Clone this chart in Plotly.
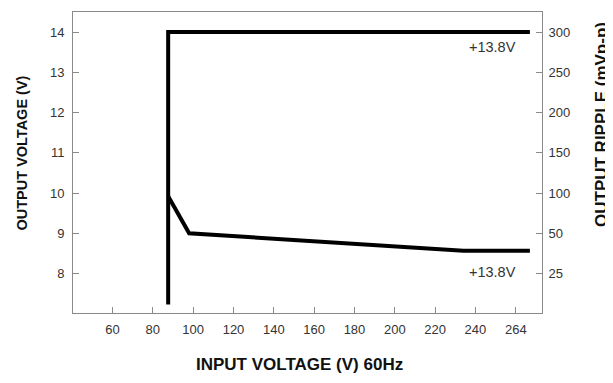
import plotly.graph_objects as go

# Data (x in axis position units; the last tick "264" sits at position 260)
vout_x = [87.6, 87.6, 267]
vout_y = [7.23, 14.0, 14.0]
ripple_x = [87.6, 98, 234, 267]
ripple_y = [9.92, 9.0, 8.57, 8.57]

x_tickvals = [60, 80, 100, 120, 140, 160, 180, 200, 220, 240, 260]
x_ticktext = ["60", "80", "100", "120", "140", "160", "180", "200", "220", "240", "264"]
y_tickvals = [8, 9, 10, 11, 12, 13, 14]
y_ticktext = ["8", "9", "10", "11", "12", "13", "14"]
y2_ticktext = ["25", "50", "100", "150", "200", "250", "300"]

FONT = "Liberation Sans, Arial, sans-serif"
AX = "#8a8a8a"
TXT = "#333333"

# page is offset by the 8px body margin; figure sized so the page does not overflow
W, H = 605, 367
OFF = 8
L, T, R, B = 73 - OFF, 12 - OFF, W - (542 - OFF), H - (313 - OFF)

fig = go.Figure()
fig.add_trace(go.Scatter(x=vout_x, y=vout_y, mode="lines",
                         line=dict(color="black", width=4), showlegend=False))
fig.add_trace(go.Scatter(x=ripple_x, y=ripple_y, mode="lines",
                         line=dict(color="black", width=4), showlegend=False))
fig.add_trace(go.Scatter(x=[None], y=[None], yaxis="y2", showlegend=False))

axis_common = dict(showgrid=False, zeroline=False, showline=True, linecolor=AX,
                   linewidth=1, ticks="inside", ticklen=6, tickcolor=AX, automargin=False,
                   tickfont=dict(family=FONT, size=13, color=TXT))

fig.update_layout(
    width=W, height=H,
    margin=dict(l=L, r=R, t=T, b=B, autoexpand=False),
    paper_bgcolor="white", plot_bgcolor="white",
    xaxis=dict(range=[40.4, 273], tickvals=x_tickvals, ticktext=x_ticktext,
               mirror=True, ticklabelstandoff=4, **axis_common),
    yaxis=dict(range=[7.02, 14.5], tickvals=y_tickvals, ticktext=y_ticktext,
               ticklabelstandoff=5, **axis_common),
    yaxis2=dict(range=[7.02, 14.5], tickvals=y_tickvals, ticktext=y2_ticktext,
                overlaying="y", side="right", ticklabelstandoff=3, **axis_common),
    annotations=[
        dict(text="+13.8V", x=261, y=13.64, xref="x", yref="y", xanchor="right",
             yanchor="middle", showarrow=False, font=dict(family=FONT, size=14.5, color=TXT)),
        dict(text="+13.8V", x=261, y=8.05, xref="x", yref="y", xanchor="right",
             yanchor="middle", showarrow=False, font=dict(family=FONT, size=14.5, color=TXT)),
        dict(text="<b>OUTPUT VOLTAGE (V)</b>", x=21.5, y=153, showarrow=False, textangle=-90,
             font=dict(family=FONT, size=14.5, color="#111")),
        dict(text="<b>INPUT VOLTAGE (V) 60Hz</b>", x=299, y=364, showarrow=False,
             font=dict(family=FONT, size=17, color="#111")),
        dict(text="<b>OUTPUT RIPPLE (mVp-p)</b>", x=601, y=125, showarrow=False,
             textangle=-90, font=dict(family=FONT, size=17, color="#111")),
    ],
)

# Convert page-pixel-placed title annotations to paper coordinates
pw, ph = W - L - R, H - T - B
for a in fig.layout.annotations[2:]:
    px, py = a.x - OFF, a.y - OFF
    a.xref = "paper"; a.yref = "paper"
    a.x = (px - L) / pw
    a.y = 1 - (py - T) / ph
    a.xanchor = "center"; a.yanchor = "middle"

fig.write_html("out.html")
